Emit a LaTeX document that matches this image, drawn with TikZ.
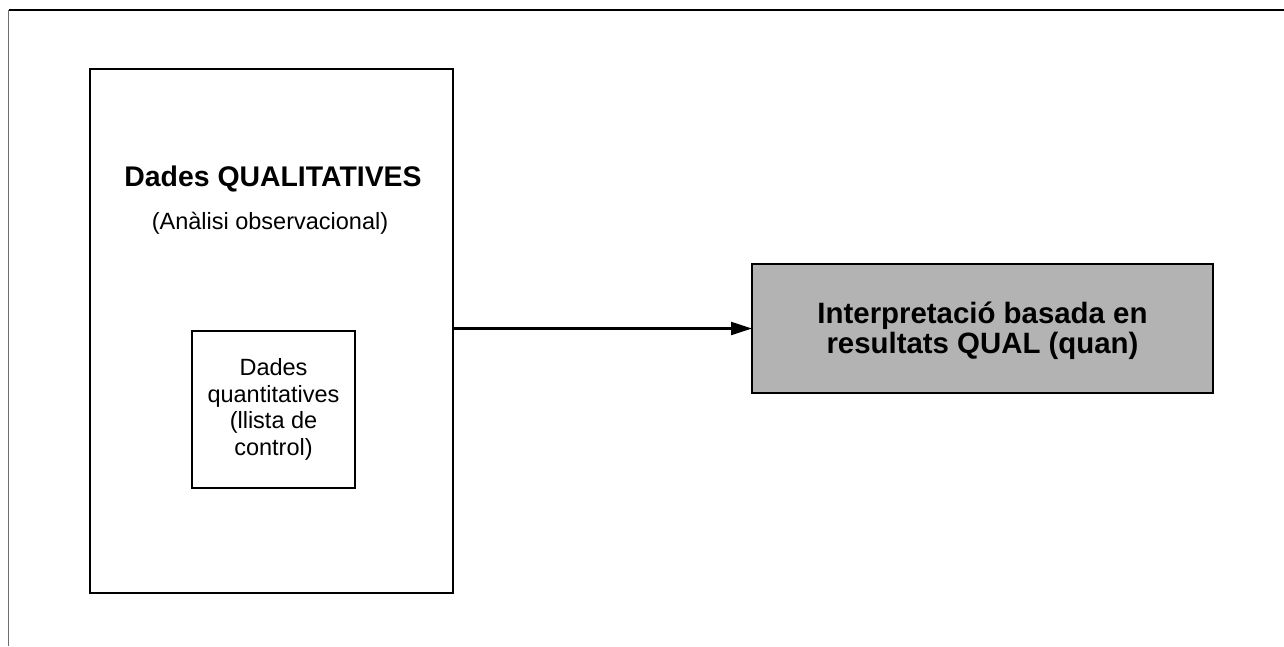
\documentclass[tikz,border=0pt]{standalone}
\usepackage{fontspec}
\setmainfont{Liberation Sans}
\usetikzlibrary{arrows.meta}
\definecolor{boxgray}{RGB}{179,179,179}
\definecolor{framegray}{RGB}{110,110,110}
\tikzset{
  box/.style={draw=black, line width=2.2pt, inner sep=0pt, outer sep=0pt, anchor=north west},
  titletext/.style={inner sep=0pt, anchor=base, font=\fontsize{28.4}{30}\selectfont\bfseries},
  subtext/.style={inner sep=0pt, anchor=base, font=\fontsize{23.5}{26.4}\selectfont},
  conn/.style={draw=black, line width=2.2pt, -{Triangle[length=21pt,width=13pt]}}
}
\begin{document}
\begin{tikzpicture}[x=1pt,y=-1pt]
\useasboundingbox (0,0) rectangle (1284,646);
% frame
\coordinate (ftl) at (8.5,10);
\coordinate (ftr) at (1284,10);
\coordinate (fbl) at (8.5,646);
\draw[framegray, line width=1pt] (ftl) -- (fbl);
\draw[black, line width=1.5pt] (ftl) -- (ftr);
% big box
\node[box, minimum width=363pt, minimum height=524pt] (big) at (90,69) {};
\node[titletext] (title) at (273,186) {Dades QUALITATIVES};
\node[subtext] (sub) at (270,229) {(Anàlisi observacional)};
% inner box
\node[box, minimum width=163pt, minimum height=157pt] (inner) at (192,331) {};
\node[subtext, align=center, anchor=base] (innertext) at (273.5,455) {Dades\\quantitatives\\(llista de\\control)};
% gray box
\node[box, fill=boxgray, minimum width=461pt, minimum height=129pt] (gray) at (752,264) {};
\node[inner sep=0pt, anchor=base, align=center, font=\fontsize{29.4}{30}\selectfont\bfseries] (graytext) at (982.5,353) {Interpretació basada en\\resultats QUAL (quan)};
% connector
\draw[conn] (big.east |- gray.west) -- (gray.west);
\end{tikzpicture}
\end{document}
